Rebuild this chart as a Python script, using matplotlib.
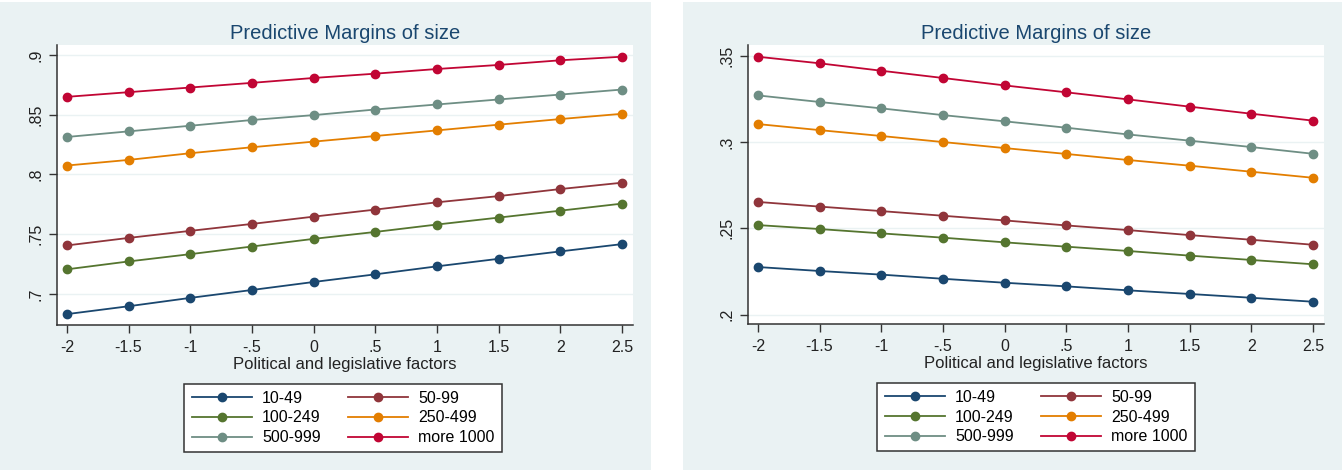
import matplotlib
matplotlib.use("Agg")
import matplotlib.pyplot as plt
from matplotlib.patches import Rectangle

plt.rcParams['font.family'] = ['Liberation Sans', 'DejaVu Sans']

X = [-2, -1.5, -1, -.5, 0, .5, 1, 1.5, 2, 2.5]
XTICKLABELS = ['-2', '-1.5', '-1', '-.5', '0', '.5', '1', '1.5', '2', '2.5']
GROUPS = ['10-49', '50-99', '100-249', '250-499', '500-999', 'more 1000']
COLORS = ['#1a476f', '#90353b', '#55752f', '#e37e00', '#6e8e84', '#c10534']

# left panel (rising)
left_10_49 = [0.6831, 0.6897, 0.6967, 0.7033, 0.7100, 0.7164, 0.7231, 0.7294, 0.7356, 0.7417]
left_50_99 = [0.7406, 0.7469, 0.7528, 0.7586, 0.7647, 0.7706, 0.7767, 0.7819, 0.7878, 0.7931]
left_100_249 = [0.7206, 0.7272, 0.7333, 0.7397, 0.7461, 0.7519, 0.7581, 0.7639, 0.7697, 0.7756]
left_250_499 = [0.8075, 0.8122, 0.8178, 0.8228, 0.8275, 0.8322, 0.8369, 0.8417, 0.8464, 0.8508]
left_500_999 = [0.8314, 0.8361, 0.8408, 0.8456, 0.8497, 0.8544, 0.8586, 0.8628, 0.8669, 0.8711]
left_1000 = [0.8650, 0.8689, 0.8728, 0.8767, 0.8808, 0.8844, 0.8883, 0.8917, 0.8956, 0.8986]

# right panel (falling)
right_10_49 = [0.2276, 0.2253, 0.2232, 0.2208, 0.2185, 0.2164, 0.2141, 0.2120, 0.2098, 0.2075]
right_50_99 = [0.2653, 0.2626, 0.2600, 0.2573, 0.2546, 0.2517, 0.2490, 0.2461, 0.2434, 0.2405]
right_100_249 = [0.2519, 0.2496, 0.2471, 0.2446, 0.2419, 0.2394, 0.2369, 0.2342, 0.2317, 0.2292]
right_250_499 = [0.3104, 0.3069, 0.3035, 0.3000, 0.2965, 0.2931, 0.2896, 0.2863, 0.2828, 0.2793]
right_500_999 = [0.3270, 0.3232, 0.3195, 0.3156, 0.3120, 0.3083, 0.3044, 0.3008, 0.2971, 0.2932]
right_1000 = [0.3494, 0.3456, 0.3413, 0.3371, 0.3328, 0.3288, 0.3247, 0.3205, 0.3164, 0.3124]

LEFT_YTICKS = [.7, .75, .8, .85, .9]
LEFT_YLABELS = ['.7', '.75', '.8', '.85', '.9']
RIGHT_YTICKS = [.2, .25, .3, .35]
RIGHT_YLABELS = ['.2', '.25', '.3', '.35']

BG = '#eaf2f3'
W, H = 1342, 472


def px_axes(fig, left, top, right, bottom):
    return fig.add_axes([left / W, 1 - bottom / H, (right - left) / W, (bottom - top) / H])


def draw_panel(fig, box, bg_box, series, yticks, ylabels, ylim, leg_box):
    bx0, bx1 = bg_box
    fig.patches.append(Rectangle((bx0 / W, 0.005), (bx1 - bx0) / W, 0.99,
                                 transform=fig.transFigure, facecolor=BG,
                                 edgecolor='none', zorder=-5))
    ax = px_axes(fig, *box)
    ax.set_facecolor('white')
    for yt in yticks:
        ax.axhline(yt, color=BG, lw=1.0, zorder=1)
    lines = []
    for vals, name, col in zip(series, GROUPS, COLORS):
        ln, = ax.plot(X, vals, color=col, lw=1.3, marker='o', markersize=6,
                      label=name, zorder=3)
        lines.append(ln)
    ax.set_xlim(-2.08, 2.59)
    ax.set_ylim(*ylim)
    ax.set_xticks(X)
    ax.set_xticklabels(XTICKLABELS)
    ax.set_yticks(yticks)
    ax.set_yticklabels(ylabels, rotation=90, va='center')
    ax.tick_params(axis='both', length=6, width=1, color='#333333',
                   labelsize=11.5, labelcolor='#222222', pad=4)
    ax.tick_params(axis='x', pad=5)
    for s in ['top', 'right']:
        ax.spines[s].set_visible(False)
    for s in ['left', 'bottom']:
        ax.spines[s].set_color('#333333')
        ax.spines[s].set_linewidth(1.1)
    ax.set_title('Predictive Margins of size', color='#1a476f', fontsize=14.5, pad=4)
    ax.set_xlabel('Political and legislative factors', fontsize=12, color='#222222', labelpad=1)

    # legend reads row-wise, matplotlib fills columns first
    order = [0, 2, 4, 1, 3, 5]
    lx0, ly0, lx1, ly1 = leg_box
    leg = fig.legend([lines[i] for i in order], [GROUPS[i] for i in order], ncol=2,
                     loc='center', bbox_to_anchor=((lx0 + lx1) / 2 / W, 1 - (ly0 + ly1) / 2 / H),
                     fontsize=11.5, frameon=True, fancybox=False, framealpha=1,
                     handlelength=3.8, columnspacing=1.7, handletextpad=0.6,
                     labelspacing=0.3, borderpad=0.45)
    leg.get_frame().set_edgecolor('#333333')
    leg.get_frame().set_linewidth(1.1)
    leg.get_frame().set_facecolor('white')
    return ax


fig = plt.figure(figsize=(W / 100, H / 100), dpi=100, facecolor='white')

draw_panel(fig, (57, 45, 633, 325), (0, 651),
           [left_10_49, left_50_99, left_100_249, left_250_499, left_500_999, left_1000],
           LEFT_YTICKS, LEFT_YLABELS, (0.674, 0.9084), (180, 379, 506, 457))

draw_panel(fig, (748, 45, 1324, 324), (683, 1342),
           [right_10_49, right_50_99, right_100_249, right_250_499, right_500_999, right_1000],
           RIGHT_YTICKS, RIGHT_YLABELS, (0.1946, 0.3562), (872, 378, 1200, 456))

fig.savefig('out.png', dpi=100, facecolor='white')
